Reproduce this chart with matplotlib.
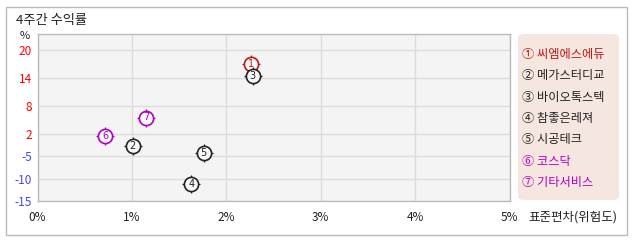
import numpy as np
import matplotlib
matplotlib.use('Agg')
import matplotlib.pyplot as plt
from matplotlib.patches import FancyBboxPatch, Rectangle

plt.rcParams['font.family'] = ['Noto Sans CJK KR', 'DejaVu Sans']

# data
names = ['씨엠에스에듀', '메가스터디교', '바이오톡스텍', '참좋은레져', '시공테크', '코스닥', '기타서비스']
nums = ['①', '②', '③', '④', '⑤', '⑥', '⑦']
digits = ['1', '2', '3', '4', '5', '6', '7']
risk = [2.26, 1.01, 2.28, 1.63, 1.76, 0.72, 1.15]       # 표준편차 %
ret4w = [17.0, -1.8, 14.4, -11.1, -4.1, 1.5, 5.6]       # 4주간 수익률 %
colors = ['#c01818', '#222222', '#222222', '#222222', '#222222', '#b000c0', '#b000c0']
yticks = [-15, -10, -5, 2, 8, 14, 20]
xticks = [0, 1, 2, 3, 4, 5]

# uneven y axis: ticks are not evenly spaced in value
ypos = [0, 22, 45, 66.7, 94.7, 122.7, 151]
yv_ext = yticks + [30]
yp_ext = ypos + [151 + 28 / 6 * 10]

def fwd(v):
    return np.interp(v, yv_ext, yp_ext)

def inv(p):
    return np.interp(p, yp_ext, yv_ext)

W, H = 638, 242
fig = plt.figure(figsize=(W / 100, H / 100), dpi=100)
fig.patch.set_facecolor('white')

# outer frame
fig.add_artist(Rectangle((6 / W, 1 - 235 / H), 621 / W, 228 / H, transform=fig.transFigure,
                         fill=False, edgecolor='#bbbbbb', linewidth=1))

L, R, T, B = 37.5, 509.5, 34, 201
ax = fig.add_axes([L / W, 1 - B / H, (R - L) / W, (B - T) / H])
ax.set_facecolor('#f4f4f4')
ax.set_yscale('function', functions=(fwd, inv))
ax.set_xlim(0, 5)
ax.set_ylim(-15, inv(167))
ax.set_xticks(xticks)
ax.set_yticks(yticks)
ax.set_xticklabels([f'{x}%' for x in xticks])
ax.set_yticklabels([str(v) for v in yticks])
for lab, v in zip(ax.get_yticklabels(), yticks):
    lab.set_color('#ff0000' if v > 0 else '#4444ff')
ax.tick_params(length=0, labelsize=8.5, pad=4)
ax.tick_params(axis='x', pad=7, colors='#333333', labelcolor='#222222')
ax.grid(True, color='#dcdcdc', linewidth=1)
ax.set_axisbelow(True)
for s in ax.spines.values():
    s.set_color('#bbbbbb')
    s.set_linewidth(1)

for i in range(len(names)):
    ax.scatter(risk[i], ret4w[i], s=175, marker='+', color=colors[i], linewidths=0.9, zorder=3 + 2 * i)
    ax.scatter(risk[i], ret4w[i], s=105, marker='o', facecolor='#f8f8f8', edgecolor=colors[i],
               linewidths=1.2, zorder=3 + 2 * i)
    ax.text(risk[i], ret4w[i], digits[i], color=colors[i], fontsize=7, ha='center', va='center',
            family='DejaVu Sans', zorder=4 + 2 * i)

fig.text(16 / W, 1 - 20.5 / H, '4주간 수익률', fontsize=9.5, ha='left', va='center', color='#222222')
fig.text(24.5 / W, 1 - 36 / H, '%', fontsize=8, ha='center', va='center', color='#222222')
fig.text(528 / W, 1 - 217 / H, '표준편차(위험도)', fontsize=9, ha='left', va='center', color='#222222')

# legend box
fig.add_artist(FancyBboxPatch((518 / W, 1 - 200 / H), 101 / W, 166 / H, transform=fig.transFigure,
                              boxstyle='round,pad=0,rounding_size=0.012', facecolor='#f5e7e0',
                              edgecolor='none'))
for i in range(len(names)):
    fig.text(521.5 / W, 1 - (54.5 + i * 21.3) / H, nums[i] + ' ' + names[i], fontsize=8.8,
             ha='left', va='center', color=colors[i])

fig.savefig('out.png', dpi=100)
